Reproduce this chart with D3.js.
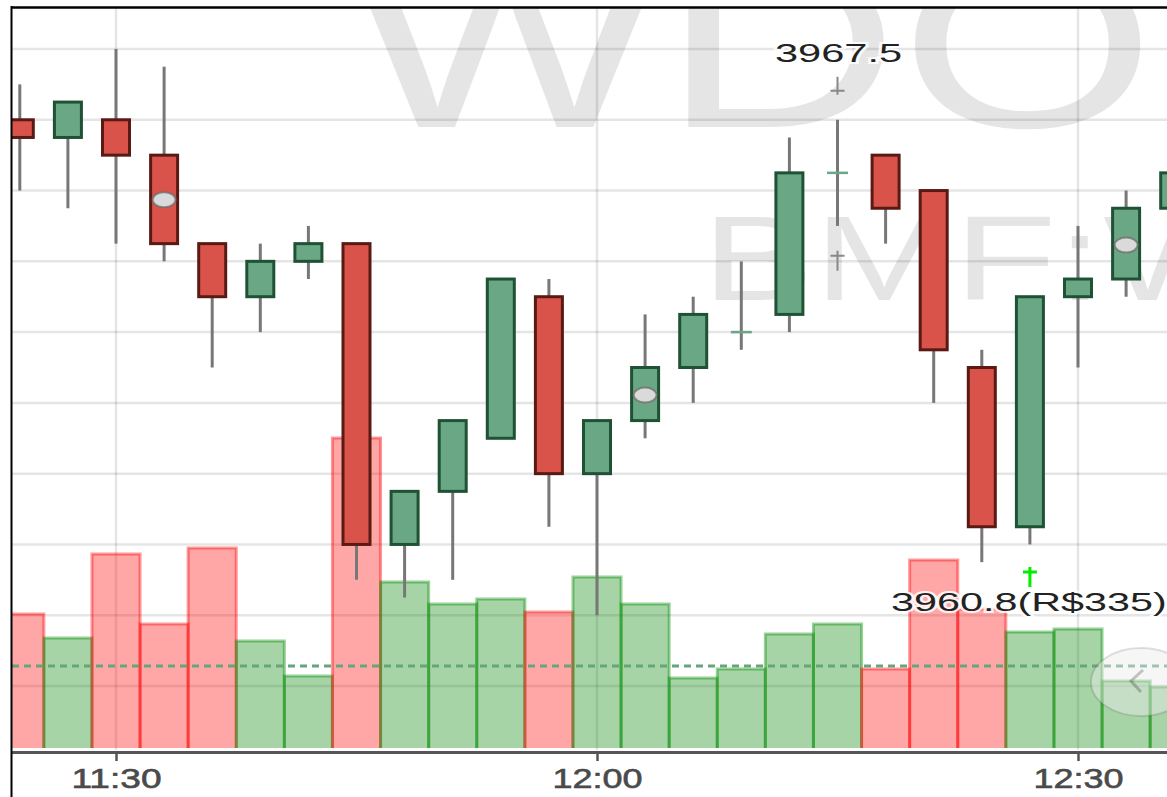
<!DOCTYPE html>
<html lang="pt-BR">
<head>
<meta charset="UTF-8">
<title>WDO 3 min</title>
<script src="https://d3js.org/d3.v7.min.js"></script>
<style>
  body { margin: 0; background: #fff; }
  svg { display: block; font-family: "Liberation Sans", Arial, sans-serif; }
</style>
</head>
<body>
<svg id="chart" width="1167" height="797"></svg>
<script>
// 3-minute candles
const times  = ["11:24","11:27","11:30","11:33","11:36","11:39","11:42","11:45","11:48","11:51","11:54","11:57",
                "12:00","12:03","12:06","12:09","12:12","12:15","12:18","12:21","12:24","12:27","12:30","12:33","12:36"];
const opens  = [3967.0, 3966.75, 3967.0, 3966.5, 3965.25, 3964.5, 3965.0, 3965.25, 3961.0, 3961.75, 3962.5, 3964.5,
                3962.0, 3962.75, 3963.5, 3964.0, 3964.25, 3966.25, 3966.5, 3966.0, 3963.5, 3961.25, 3964.5, 3964.75, 3965.75];
const highs  = [3967.5, 3967.25, 3968.0, 3967.75, 3965.25, 3965.25, 3965.5, 3965.25, 3961.75, 3962.75, 3964.75, 3964.75,
                3962.75, 3964.25, 3964.5, 3965.0, 3966.75, 3967.0, 3966.5, 3966.0, 3963.75, 3964.5, 3965.5, 3966.0, 3966.75];
const lows   = [3966.0, 3965.75, 3965.25, 3965.0, 3963.5, 3964.0, 3964.75, 3960.5, 3960.25, 3960.5, 3962.5, 3961.25,
                3960.0, 3962.5, 3963.0, 3963.75, 3964.0, 3965.5, 3965.25, 3963.0, 3960.75, 3961.0, 3963.5, 3964.5, 3965.5];
const closes = [3966.75, 3967.25, 3966.5, 3965.25, 3964.5, 3965.0, 3965.25, 3961.0, 3961.75, 3962.75, 3964.75, 3962.0,
                3962.75, 3963.5, 3964.25, 3964.0, 3966.25, 3966.25, 3965.75, 3963.75, 3961.25, 3964.5, 3964.75, 3965.75, 3966.25];
const volumes = [2010, 1650, 2910, 1860, 3000, 1605, 1080, 4650, 2490, 2160, 2235, 2040,
                 2565, 2160, 1050, 1185, 1710, 1860, 1185, 2820, 2085, 1740, 1785, 1005, 915];
const volumeAvg = 1230;
const timeTicks = ["11:30", "12:00", "12:30"];

// trade dots and signal marks
const dotTimes  = ["11:33", "12:03", "12:33"];
const dotPrices = [3965.87, 3963.11, 3965.23];
const markTimes  = ["12:15", "12:15", "12:27"];
const markPrices = [3967.41, 3965.08, 3960.61];
const markDirs   = ["down", "up", "up"];
const markColors = ["#888", "#888", "#00ee00"];
const labelTexts = ["3967.5", "", "3960.8(R$335)"];

const W = 1167, H = 797;
const plot = {left: 12, top: 8, right: 1167, bottom: 750};
const volBase = 748;

const svg = d3.select("#chart");
const parse = d3.timeParse("%H:%M");

const x = d3.scaleTime()
    .domain([parse("11:30"), parse("12:30")])
    .range([116, 1078]);
const step = x(parse("11:33")) - x(parse("11:30"));

const y = d3.scaleLinear()
    .domain([3959, 3968])
    .range([686, 49]);

const yVol = d3.scaleLinear()
    .domain([0, 5000])
    .range([volBase, volBase - 5000 / 15]);

const candles = times.map((t, i) => ({
    t: parse(t), o: opens[i], h: highs[i], l: lows[i], c: closes[i], v: volumes[i]
}));

const defs = svg.append("defs");
defs.append("clipPath").attr("id", "clipPlot")
    .append("rect")
    .attr("x", plot.left).attr("y", plot.top)
    .attr("width", plot.right - plot.left).attr("height", plot.bottom - plot.top);
defs.append("clipPath").attr("id", "clipVol")
    .append("rect")
    .attr("x", plot.left).attr("y", plot.top)
    .attr("width", plot.right - plot.left).attr("height", volBase - plot.top);

const g = svg.append("g").attr("clip-path", "url(#clipPlot)");

// watermark
g.append("text")
    .attr("x", 350).attr("y", 127)
    .attr("font-size", 240)
    .attr("textLength", 806)
    .attr("lengthAdjust", "spacingAndGlyphs")
    .attr("fill", "rgba(0,0,0,0.1)")
    .text("WDO");
g.append("text")
    .attr("transform", "translate(702,300) scale(1.4,1)")
    .attr("font-size", 120)
    .attr("fill", "rgba(0,0,0,0.1)")
    .text("BMF:WDO");

// grid
g.append("g").selectAll("line")
    .data(y.ticks(10))
    .join("line")
    .attr("x1", plot.left).attr("x2", plot.right)
    .attr("y1", d => y(d)).attr("y2", d => y(d))
    .attr("stroke", "rgba(0,0,0,0.1)")
    .attr("stroke-width", 2.5);
g.append("g").selectAll("line")
    .data(timeTicks.map(parse))
    .join("line")
    .attr("x1", d => x(d)).attr("x2", d => x(d))
    .attr("y1", plot.top).attr("y2", plot.bottom)
    .attr("stroke", "rgba(0,0,0,0.1)")
    .attr("stroke-width", 2.5);

// volume
const up = d => d.c >= d.o;
const vg = g.append("g").attr("clip-path", "url(#clipVol)");
vg.selectAll("rect")
    .data(candles)
    .join("rect")
    .attr("x", d => x(d.t) - step / 2)
    .attr("width", step)
    .attr("y", d => yVol(d.v))
    .attr("height", d => volBase + 4 - yVol(d.v))
    .attr("fill", d => up(d) ? "rgba(0,133,0,0.35)" : "rgba(255,0,0,0.35)")
    .attr("stroke", d => up(d) ? "rgba(0,140,0,0.4)" : "rgba(255,0,0,0.4)")
    .attr("stroke-width", 3);

g.append("line")
    .attr("x1", plot.left).attr("x2", plot.right)
    .attr("y1", yVol(volumeAvg)).attr("y2", yVol(volumeAvg))
    .attr("stroke", "#64a57d")
    .attr("stroke-width", 3)
    .attr("stroke-dasharray", "7,5");

// candles
const cg = g.append("g");
cg.selectAll("line.wick")
    .data(candles)
    .join("line")
    .attr("class", "wick")
    .attr("x1", d => x(d.t)).attr("x2", d => x(d.t))
    .attr("y1", d => y(d.h)).attr("y2", d => y(d.l))
    .attr("stroke", "#777")
    .attr("stroke-width", 3);

const bodyW = 27;
cg.selectAll("rect.body")
    .data(candles)
    .join("rect")
    .attr("class", "body")
    .attr("x", d => x(d.t) - bodyW / 2)
    .attr("width", bodyW)
    .attr("y", d => y(Math.max(d.o, d.c)))
    .attr("height", d => Math.abs(y(d.o) - y(d.c)))
    .attr("fill", d => up(d) ? "#6aa785" : "#d9534a")
    .attr("stroke", d => up(d) ? "#1f5234" : "#5a1a14")
    .attr("stroke-width", d => d.o === d.c ? 2.5 : 3);
cg.selectAll("line.doji")
    .data(candles.filter(d => d.o === d.c))
    .join("line")
    .attr("class", "doji")
    .attr("x1", d => x(d.t) - bodyW / 2 + 3).attr("x2", d => x(d.t) + bodyW / 2 - 3)
    .attr("y1", d => y(d.o)).attr("y2", d => y(d.o))
    .attr("stroke", "#6aa785")
    .attr("stroke-width", 2.5);

// dots
g.append("g").selectAll("ellipse")
    .data(dotTimes.map((t, i) => ({t: parse(t), p: dotPrices[i]})))
    .join("ellipse")
    .attr("cx", d => x(d.t)).attr("cy", d => y(d.p))
    .attr("rx", 11.5).attr("ry", 7.5)
    .attr("fill", "#dadada")
    .attr("stroke", "rgba(110,110,110,0.75)")
    .attr("stroke-width", 2);

// marks and labels
const marks = markTimes.map((t, i) => ({
    t: parse(t), p: markPrices[i], dir: markDirs[i], color: markColors[i], label: labelTexts[i]
}));
const mg = g.append("g");
mg.selectAll("path")
    .data(marks)
    .join("path")
    .attr("d", d => {
        const cx = x(d.t), cy = y(d.p);
        const v = d.dir === "down" ? `M${cx},${cy - 14}V${cy + 4}` : `M${cx},${cy - 5}V${cy + 15}`;
        return v + `M${cx - 7},${cy}H${cx + 7}`;
    })
    .attr("stroke", d => d.color)
    .attr("stroke-width", d => d.color === "#888" ? 2 : 3)
    .attr("fill", "none");

mg.selectAll("text")
    .data(marks.filter(d => d.label))
    .join("text")
    .attr("x", d => x(d.t) + (d.dir === "down" ? 1 : -1))
    .attr("y", d => d.dir === "down" ? y(d.p) - 29 : y(d.p) + 39)
    .attr("text-anchor", "middle")
    .attr("font-size", 26)
    .attr("textLength", d => d.label.length * 21.2)
    .attr("lengthAdjust", "spacingAndGlyphs")
    .attr("fill", "#222")
    .attr("stroke", "rgba(255,255,255,0.85)")
    .attr("stroke-width", 4)
    .attr("paint-order", "stroke")
    .text(d => d.label);

// scroll button
g.append("ellipse")
    .attr("cx", 1141).attr("cy", 682)
    .attr("rx", 50).attr("ry", 34)
    .attr("fill", "rgba(235,235,235,0.45)")
    .attr("stroke", "rgba(0,0,0,0.12)")
    .attr("stroke-width", 2);
g.append("path")
    .attr("d", "M1143,670L1131,681L1141,692")
    .attr("fill", "none")
    .attr("stroke", "rgba(0,0,0,0.22)")
    .attr("stroke-width", 3);

// time axis
svg.append("line")
    .attr("x1", plot.left).attr("x2", W)
    .attr("y1", 752.5).attr("y2", 752.5)
    .attr("stroke", "#555")
    .attr("stroke-width", 3);

const axis = svg.append("g")
    .attr("transform", "translate(0,754)")
    .call(d3.axisBottom(x)
        .tickValues(timeTicks.map(parse))
        .tickFormat(d3.timeFormat("%H:%M"))
        .tickSize(7)
        .tickSizeOuter(0));
axis.select(".domain").remove();
axis.selectAll(".tick line").attr("stroke", "#555").attr("stroke-width", 2.5);
axis.selectAll(".tick text")
    .attr("y", 34).attr("dy", null)
    .attr("font-size", 27)
    .attr("font-family", "Liberation Sans, Arial, sans-serif")
    .attr("textLength", 90)
    .attr("lengthAdjust", "spacingAndGlyphs")
    .attr("fill", "#4a4a4a")
    .attr("stroke", "#4a4a4a")
    .attr("stroke-width", 0.6);

// frame
svg.append("line")
    .attr("x1", 11).attr("x2", W)
    .attr("y1", 7.5).attr("y2", 7.5)
    .attr("stroke", "#000").attr("stroke-width", 2.5);
svg.append("line")
    .attr("x1", 11.5).attr("x2", 11.5)
    .attr("y1", 6).attr("y2", H)
    .attr("stroke", "#000").attr("stroke-width", 2);
</script>
</body>
</html>
